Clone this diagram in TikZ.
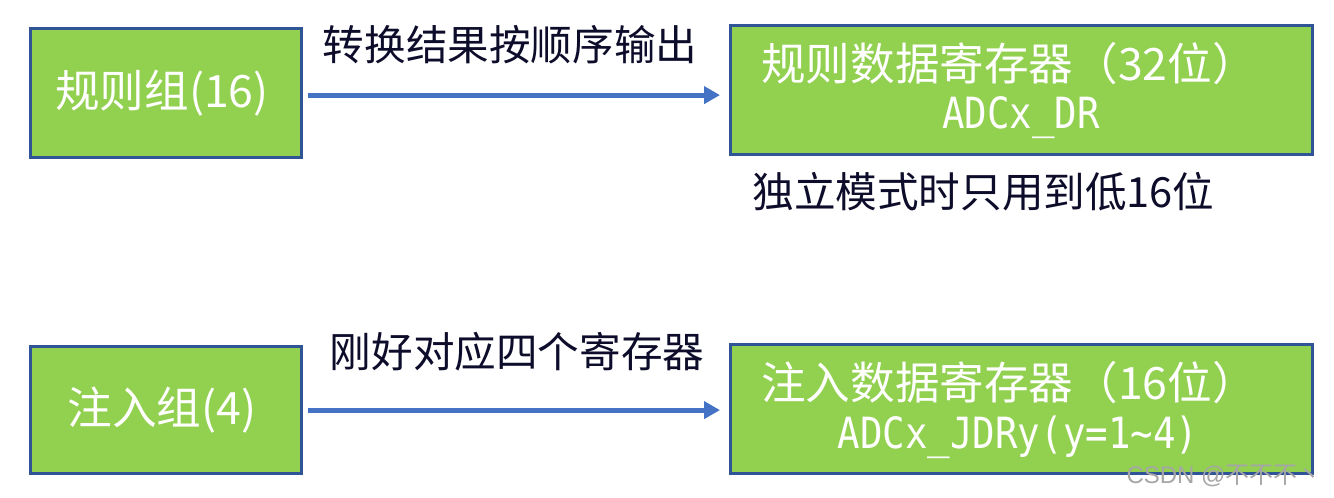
\documentclass[tikz,border=0pt]{standalone}
\usepackage{fontspec}
\setmainfont{Noto Sans CJK SC}
\newfontfamily\monof{DejaVu Sans Mono}
\newfontfamily\wmlatin{Liberation Sans}
\usetikzlibrary{arrows.meta}
\definecolor{boxgreen}{HTML}{92D050}
\definecolor{boxborder}{HTML}{2F5597}
\definecolor{arrowblue}{HTML}{4472C4}
\definecolor{labeltext}{HTML}{0D0D2B}
\tikzset{
  gbox/.style={draw=boxborder, line width=1.6pt, fill=boxgreen, inner sep=0pt, anchor=north west},
  boxtext/.style={text=white, font=\fontsize{22.3pt}{26pt}\selectfont, inner sep=0pt},
  monotext/.style={text=white, font=\monof\fontsize{21.5pt}{24pt}\selectfont, inner sep=0pt},
  lbl/.style={text=labeltext, font=\fontsize{20.8pt}{24pt}\selectfont, inner sep=0pt},
  arr/.style={draw=arrowblue, line width=2.4pt, -{Triangle[length=8pt,width=8.5pt]}},
}
\begin{document}
\begin{tikzpicture}[x=0.5pt,y=-0.5pt]
\useasboundingbox (0,0) rectangle (1334,498);
% boxes
\node[gbox, minimum width=135.5pt, minimum height=64.5pt] (reg) at (29,27) {};
\node[gbox, minimum width=291pt, minimum height=64.5pt] (regdr) at (729,24) {};
\node[gbox, minimum width=135.5pt, minimum height=63.5pt] (inj) at (29,345) {};
\node[gbox, minimum width=291pt, minimum height=64.5pt] (injdr) at (729,343) {};
% box texts
\node[boxtext] (t1) at (162,93) {规则组(16)};
\node[boxtext] (t2) at (1009,64) {规则数据寄存器（32位）};
\node[monotext] (t3) at (1021,118) {\scalebox{0.87}[1]{ADCx\_DR}};
\node[boxtext] (t4) at (162,410) {注入组(4)};
\node[boxtext] (t5) at (1009,383) {注入数据寄存器（16位）};
\node[monotext] (t6) at (1018,437) {\scalebox{0.87}[1]{ADCx\_JDRy(y=1\textasciitilde4)}};
% labels
\node[lbl] (l1) at (510,45) {转换结果按顺序输出};
\node[lbl] (l2) at (517,352) {刚好对应四个寄存器};
\node[lbl, anchor=west] (l3) at (752,192) {独立模式时只用到低16位};
% arrows
\draw[arr, shorten <=2.5pt, shorten >=4.5pt] ([yshift=-1pt]reg.east) -- ([yshift=-1pt]reg.east -| regdr.west);
\draw[arr, shorten <=2.5pt, shorten >=4.5pt] ([yshift=0pt]inj.east) -- ([yshift=0pt]inj.east -| injdr.west);
% watermark
\node[text=black!35, font=\fontsize{12pt}{14pt}\selectfont, inner sep=0pt, anchor=east] (wm) at (1322,476) {{\wmlatin CSDN @}不不不丶};
\end{tikzpicture}
\end{document}
